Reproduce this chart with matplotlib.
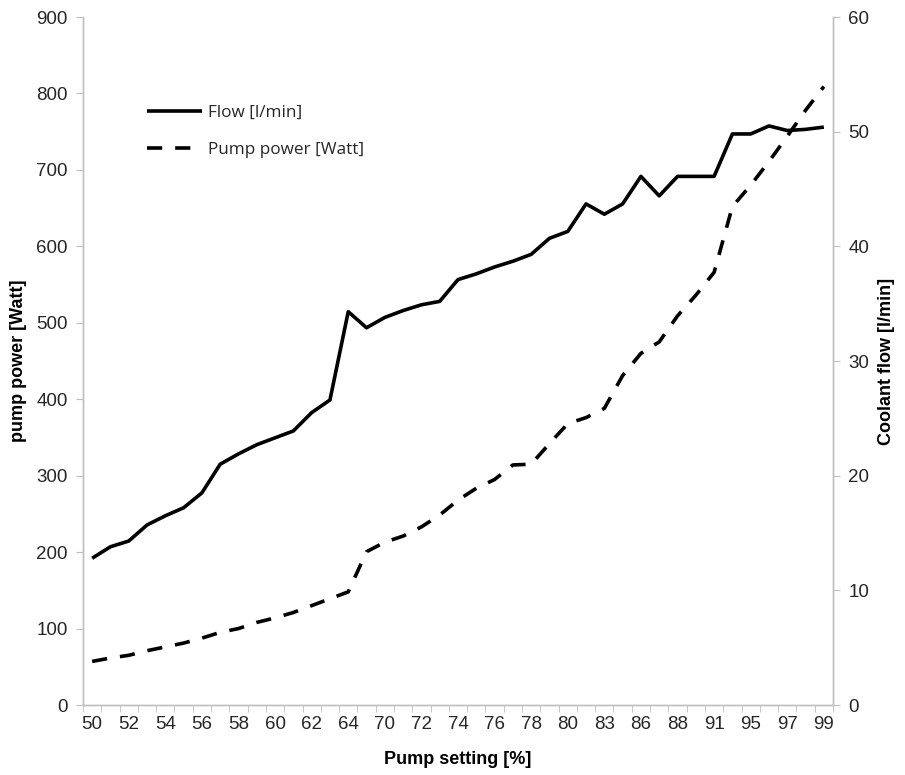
import matplotlib
matplotlib.use("Agg")
import matplotlib.pyplot as plt
from matplotlib.ticker import FixedLocator

# ---- data ----
pump_setting = [50, 51, 52, 53, 54, 55, 56, 57, 58, 59, 60, 61, 62, 63, 64,
                66, 70, 71, 72, 73, 74, 75, 76, 77, 78, 79, 80,
                82, 83, 85, 86, 87, 88, 90, 91, 93, 95, 96, 97, 98, 99]

coolant_flow = [12.8, 13.8, 14.3, 15.7, 16.5, 17.2, 18.5, 21.0, 21.9, 22.7, 23.3,
                23.9, 25.5, 26.6, 34.3, 32.9, 33.8, 34.4, 34.9, 35.2, 37.1,
                37.6, 38.2, 38.7, 39.3, 40.7, 41.3, 43.7, 42.8, 43.7, 46.1,
                44.4, 46.1, 46.1, 46.1, 49.8, 49.8, 50.5, 50.1, 50.2, 50.4]

pump_power = [57, 61.5, 65, 71, 76, 81, 87.5, 95, 100, 108, 114, 121, 130, 139, 148,
              200.5, 213, 221, 233, 248.5, 268, 283.5, 295, 314, 315, 342, 368,
              376, 388, 431, 460, 475, 509, 536, 566, 652, 680, 711, 744, 778, 809]

left_ticks = [0, 100, 200, 300, 400, 500, 600, 700, 800, 900]
right_ticks = [0, 10, 20, 30, 40, 50, 60]

# ---- figure ----
fig = plt.figure(figsize=(9.05, 7.75), dpi=100)
ax = fig.add_axes([83/905, 1-705/775, 750/905, 688/775])
ax2 = ax.twinx()

x = list(range(len(pump_setting)))
axis_col = "#bfbfbf"
tick_fam = ["Liberation Sans", "DejaVu Sans"]
tick_size = 13.5
tick_col = "#262626"

lp, = ax.plot(x, pump_power, color="black", lw=2.6, ls=(0, (4.2, 3.6)),
              solid_joinstyle="round", dash_capstyle="butt")
lf, = ax2.plot(x, coolant_flow, color="black", lw=2.6, solid_joinstyle="round",
               solid_capstyle="butt")

ax.set_xlim(-0.5, len(x) - 0.5)
ax.set_ylim(0, 900)
ax2.set_ylim(0, 60)

ax.set_yticks(left_ticks)
ax2.set_yticks(right_ticks)
ax.set_xticks(x[::2])
ax.set_xticklabels([str(v) for v in pump_setting[::2]])
ax.xaxis.set_minor_locator(FixedLocator([i - 0.5 for i in range(len(x) + 1)]))

for a in (ax, ax2):
    for s in a.spines.values():
        s.set_color(axis_col)
        s.set_linewidth(1.0)
    a.spines["top"].set_visible(False)

ax.tick_params(axis="x", which="major", length=0, pad=8)
ax.tick_params(axis="x", which="minor", length=5, color=axis_col, direction="out")
ax.tick_params(axis="y", length=5, color=axis_col, direction="out", pad=6)
ax2.tick_params(axis="y", length=5, color=axis_col, direction="out", pad=6)

for lab in ax.get_xticklabels() + ax.get_yticklabels() + ax2.get_yticklabels():
    lab.set_fontfamily(tick_fam)
    lab.set_fontsize(tick_size)
    lab.set_color(tick_col)

lab_font = dict(family=["Liberation Sans", "DejaVu Sans"], size=13, weight="bold")
ax.set_xlabel("Pump setting [%]", fontdict=lab_font, labelpad=13)
ax.set_ylabel("pump power [Watt]", fontdict=lab_font, labelpad=7)
ax2.set_ylabel("Coolant flow [l/min]", fontdict=lab_font, labelpad=6)

# legend (flow solid first, pump power dashed)
leg = ax.legend([lf, lp], ["Flow [l/min]", "Pump power [Watt]"],
                loc="upper left", bbox_to_anchor=(0.065, 0.895),
                frameon=False, handlelength=3.2, handletextpad=0.35,
                labelspacing=1.25,
                prop=dict(family=["Open Sans", "DejaVu Sans"], size=12.3))
for t in leg.get_texts():
    t.set_color("#262626")

fig.savefig("out.png", dpi=100, facecolor="white")
